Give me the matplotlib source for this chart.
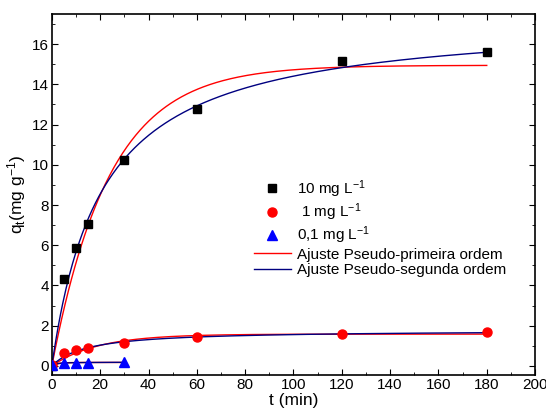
import numpy as np
import matplotlib
matplotlib.use("Agg")
import matplotlib.pyplot as plt
from matplotlib.ticker import MultipleLocator

plt.rcParams['font.family'] = ['Liberation Sans', 'DejaVu Sans']
plt.rcParams['mathtext.fontset'] = 'custom'
plt.rcParams['mathtext.rm'] = 'Liberation Sans'
plt.rcParams['mathtext.it'] = 'Liberation Sans'

# Measured adsorbed amount q_t (mg/g) versus contact time t (min)
t_high = [0, 5, 10, 15, 30, 60, 120, 180]
q_10 = [0.0, 4.3, 5.85, 7.05, 10.25, 12.8, 15.15, 15.62]
q_1 = [0.05, 0.65, 0.8, 0.9, 1.15, 1.45, 1.6, 1.66]
t_low = [0, 5, 10, 15, 30]
q_01 = [0.03, 0.13, 0.14, 0.15, 0.2]

# Fitted kinetic parameters: [10 mg/L, 1 mg/L, 0.1 mg/L]
pfo_qe = [14.95, 1.58, 0.17]     # pseudo-first order, qe (mg/g)
pfo_k1 = [0.042, 0.052, 0.40]    # k1 (1/min)
pso_qe = [17.39, 1.784, 0.185]   # pseudo-second order, qe (mg/g)
pso_k2 = [0.00278, 0.0384, 3.6]  # k2 (g/mg/min)
fit_tmax = [180, 180, 30]


def pseudo_first(t, qe, k1):
    return qe * (1 - np.exp(-k1 * t))


def pseudo_second(t, qe, k2):
    return qe ** 2 * k2 * t / (1 + qe * k2 * t)


fig = plt.figure(figsize=(5.46, 4.12), dpi=100)
ax = fig.add_axes([0.095, 0.09, 0.885, 0.876])

for i in range(3):
    tt = np.linspace(0, fit_tmax[i], 400)
    ax.plot(tt, pseudo_first(tt, pfo_qe[i], pfo_k1[i]),
            color='#ff0000', lw=1.0, zorder=2,
            label='Ajuste Pseudo-primeira ordem' if i == 0 else None)
    ax.plot(tt, pseudo_second(tt, pso_qe[i], pso_k2[i]),
            color='#000080', lw=1.0, zorder=2,
            label='Ajuste Pseudo-segunda ordem' if i == 0 else None)

ax.plot(t_high, q_10, 's', color='black', ms=5.5, ls='none', zorder=3,
        label='10 mg L$^{-1}$')
ax.plot(t_high, q_1, 'o', color='#ff0000', ms=6.5, ls='none', zorder=3,
        label=' 1 mg L$^{-1}$')
ax.plot(t_low, q_01, '^', color='#0000ff', ms=7, ls='none', zorder=4,
        label='0,1 mg L$^{-1}$')

ax.set_xlim(0, 200)
ax.set_ylim(-0.45, 17.5)
ax.xaxis.set_major_locator(MultipleLocator(20))
ax.xaxis.set_minor_locator(MultipleLocator(10))
ax.yaxis.set_major_locator(MultipleLocator(2))
ax.yaxis.set_minor_locator(MultipleLocator(1))
ax.tick_params(which='both', direction='in', top=True, right=True,
               labelsize=11, pad=2)
ax.tick_params(which='major', length=4, width=0.8)
ax.tick_params(which='minor', length=2.5, width=0.6)
for s in ax.spines.values():
    s.set_linewidth(1.2)

ax.set_xlabel('t (min)', fontsize=12.5, labelpad=1)
ax.set_ylabel('q$_t$(mg g$^{-1}$)', fontsize=12.5, labelpad=3)

handles, labels = ax.get_legend_handles_labels()
order = [2, 3, 4, 0, 1]
ax.legend([handles[j] for j in order], [labels[j] for j in order],
          loc='upper left', bbox_to_anchor=(0.418, 0.545), frameon=False,
          fontsize=11, handlelength=2.4, handletextpad=0.4,
          labelspacing=0.1, borderpad=0, borderaxespad=0)

fig.savefig('out.png', dpi=100)
